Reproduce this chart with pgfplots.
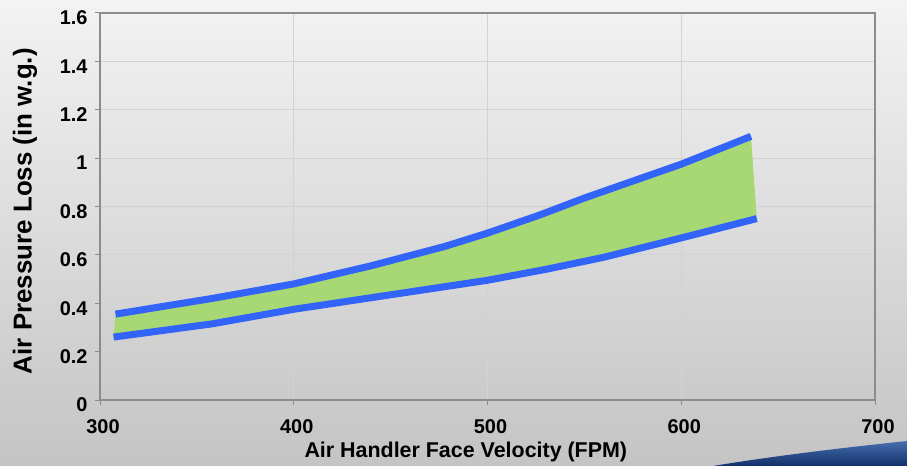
\documentclass[border=0pt]{standalone}
\usepackage{fontspec}
\setmainfont{Liberation Sans}
\usepackage{pgfplots}
\pgfplotsset{compat=1.18}
\definecolor{bluel}{RGB}{50,100,250}
\definecolor{greenf}{RGB}{168,216,115}
\definecolor{gridc}{RGB}{210,210,210}
\definecolor{axc}{RGB}{140,140,140}
\begin{document}
\begin{tikzpicture}
\shade[top color={rgb,255:red,243;green,243;blue,243}, bottom color={rgb,255:red,196;green,196;blue,196}] (0bp,0bp) rectangle (907bp,466bp);
\shade[top color={rgb,255:red,70;green,110;blue,175}, bottom color={rgb,255:red,18;green,48;blue,105}]
  (713bp,0bp) .. controls (780bp,11bp) and (850bp,19bp) .. (907bp,25bp) -- (907bp,0bp) -- cycle;
\begin{axis}[
  at={(100bp,66bp)}, anchor=south west,
  scale only axis, width=775bp, height=387bp,
  xmin=300, xmax=700, ymin=0, ymax=1.6,
  xtick={300,400,...,700}, ytick={0,0.2,...,1.6},
  grid=major, grid style={gridc, line width=0.8bp},
  axis line style={axc, line width=1.5bp},
  tick style={axc, line width=1bp},
  tick align=outside, major tick length=5bp,
  xtick pos=bottom, ytick pos=left,
  /pgf/number format/assume math mode=true,
  ticklabel style={font=\fontsize{20}{22}\selectfont\bfseries},
  xlabel={Air Handler Face Velocity (FPM)},
  ylabel={Air Pressure Loss (in w.g.)},
  xlabel style={font=\fontsize{21.5}{24}\selectfont\bfseries, at={(axis description cs:0.472,0)}, anchor=center, yshift=-52bp},
  ylabel style={font=\fontsize{26}{28}\selectfont\bfseries, at={(axis description cs:0,0.488)}, anchor=center, yshift=75bp},
  xticklabel style={yshift=-11bp, xshift=3bp},
  yticklabel style={xshift=-4bp, yshift=-5bp},
]
\addplot[fill=greenf, draw=none] coordinates {
(308,0.355) (358,0.42) (400,0.48) (440,0.555) (478,0.635) (500,0.69) (527,0.765) (550,0.835) (575,0.905) (600,0.975) (636,1.09)
(639,0.75) (600,0.67) (560,0.59) (530,0.54) (500,0.495) (450,0.435) (400,0.375) (358,0.315) (307,0.26)} -- cycle;
\addplot[bluel, line width=7bp, line join=round] coordinates {
(308,0.355) (358,0.42) (400,0.48) (440,0.555) (478,0.635) (500,0.69) (527,0.765) (550,0.835) (575,0.905) (600,0.975) (636,1.09)};
\addplot[bluel, line width=7bp, line join=round] coordinates {
(307,0.26) (358,0.315) (400,0.375) (450,0.435) (500,0.495) (530,0.54) (560,0.59) (600,0.67) (639,0.75)};
\end{axis}
\end{tikzpicture}
\end{document}
